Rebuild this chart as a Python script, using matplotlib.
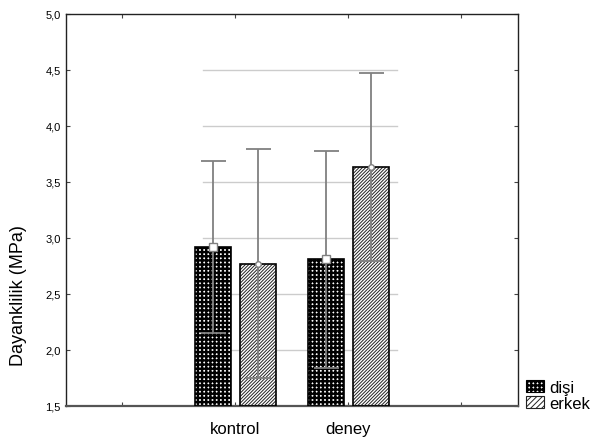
import matplotlib
matplotlib.use("Agg")
import matplotlib.pyplot as plt
from matplotlib.patches import Patch
import numpy as np

plt.rcParams['font.family'] = ['Liberation Sans', 'DejaVu Sans']

categories = ["kontrol", "deney"]
series = ["dişi", "erkek"]
means_disi = [2.92, 2.81]
means_erkek = [2.77, 3.63]
err_disi = [0.77, 0.97]
err_erkek = [1.02, 0.84]
yticks = [1.5, 2.0, 2.5, 3.0, 3.5, 4.0, 4.5, 5.0]
grid_levels = [2.0, 2.5, 3.0, 3.5, 4.0, 4.5]

LW_D = 1.7
LW_E = 0.7


def set_hlw(artist, lw):
    if hasattr(artist, 'set_hatch_linewidth'):
        artist.set_hatch_linewidth(lw)
    else:
        artist._hatch_linewidth = lw


fig = plt.figure(figsize=(6.15, 4.39), dpi=100)
ax = fig.add_axes([0.107, 0.073, 0.735, 0.893])

x = np.array([1, 2])
w = 0.32
off = 0.2

# gridlines (partial width, as in reference)
for g in grid_levels:
    ax.plot([0.71, 2.43], [g, g], color='#cccccc', lw=1.0, zorder=0)

bottom = 1.5
HATCH_D = '++++'
HATCH_E = '//////////'

plt.rcParams['hatch.linewidth'] = LW_D
b1 = ax.bar(x - off, np.array(means_disi) - bottom, bottom=bottom, width=w,
            color='white', edgecolor='black', hatch=HATCH_D, linewidth=0, zorder=2)
for p in b1:
    set_hlw(p, LW_D)
ax.bar(x - off, np.array(means_disi) - bottom, bottom=bottom, width=w,
       facecolor='none', edgecolor='black', linewidth=1.2, zorder=3)

plt.rcParams['hatch.linewidth'] = LW_E
b2 = ax.bar(x + off, np.array(means_erkek) - bottom, bottom=bottom, width=w,
            color='white', edgecolor='#222222', hatch=HATCH_E, linewidth=0, zorder=2)
for p in b2:
    set_hlw(p, LW_E)
ax.bar(x + off, np.array(means_erkek) - bottom, bottom=bottom, width=w,
       facecolor='none', edgecolor='black', linewidth=1.2, zorder=3)

ax.errorbar(x - off, means_disi, yerr=err_disi, fmt='s', color='#808080',
            mfc='white', mec='#808080', ms=6, capsize=9, elinewidth=1.3,
            capthick=1.3, zorder=4)
ax.errorbar(x + off, means_erkek, yerr=err_erkek, fmt='o', color='#808080',
            mfc='white', mec='#808080', ms=4, capsize=9, elinewidth=1.3,
            capthick=1.3, zorder=4)

ax.set_xlim(-0.5, 3.5)
ax.set_ylim(1.5, 5.0)
ax.set_yticks(yticks)
ax.set_yticklabels([f"{v:.1f}".replace('.', ',') for v in yticks], fontsize=8)
ax.set_xticks([0, 1, 2, 3])
ax.set_xticklabels(["", categories[0], categories[1], ""], fontsize=12)
ax.tick_params(axis='x', direction='in', length=3, top=True, pad=11, color='#444444')
ax.tick_params(axis='y', direction='in', length=3, right=True, color='#444444')
ax.set_ylabel("Dayanklilik (MPa)", fontsize=13)
ax.yaxis.set_label_coords(-0.085, 0.285)

for s in ['top', 'right', 'left']:
    ax.spines[s].set_color('#222222')
    ax.spines[s].set_linewidth(1.0)
ax.spines['bottom'].set_color('#555555')
ax.spines['bottom'].set_linewidth(1.6)

handles = [Patch(facecolor='white', edgecolor='black', hatch=HATCH_D, linewidth=0.8),
           Patch(facecolor='white', edgecolor='#222222', hatch='//////', linewidth=0.8)]
set_hlw(handles[0], LW_D)
set_hlw(handles[1], LW_E)
leg = fig.legend(handles, series, loc='lower left', bbox_to_anchor=(0.855, 0.062),
                 frameon=False, fontsize=12, handlelength=1.1, handleheight=0.8,
                 handletextpad=0.3, labelspacing=0.05, borderpad=0, borderaxespad=0)
lp = leg.get_patches()
set_hlw(lp[0], LW_D)
set_hlw(lp[1], LW_E)

fig.savefig("out.png", dpi=100)
